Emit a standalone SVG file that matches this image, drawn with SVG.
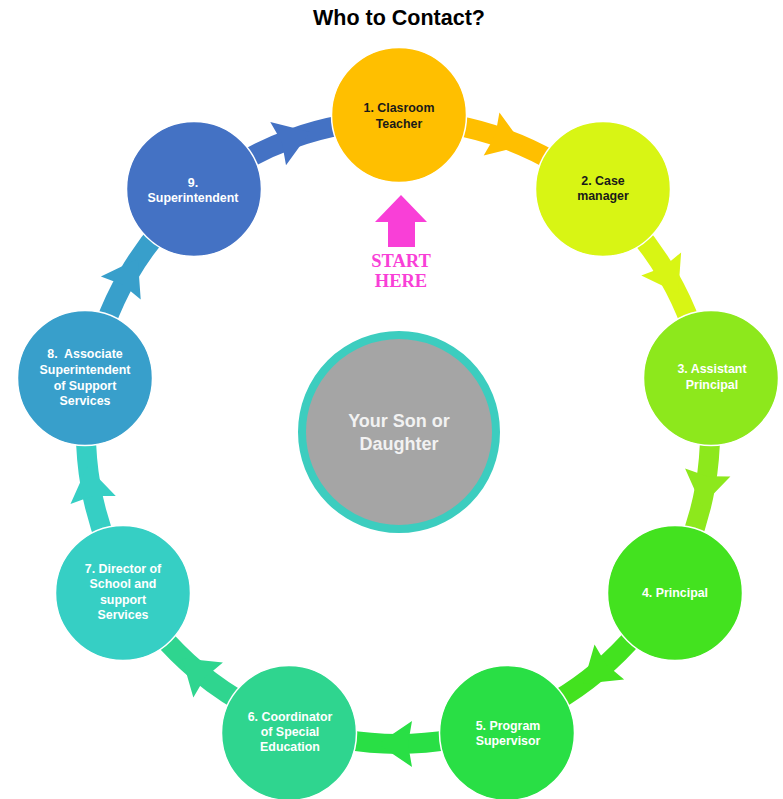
<svg xmlns="http://www.w3.org/2000/svg" width="783" height="799" viewBox="0 0 783 799">
<defs>
<style>
.band{fill:none;stroke-width:20}
.node{stroke:#ffffff;stroke-width:1.5}
.t{font-family:"Liberation Sans",Arial,sans-serif;font-weight:bold;font-size:12.4px;text-anchor:middle}
.w{fill:#ffffff}
.d{fill:#1a1a1a}
.s{font-family:"Liberation Serif","Times New Roman",serif;font-weight:bold;font-size:18.5px;text-anchor:middle;fill:#f93fd7}
</style>
<polygon id="head" points="-14,-23 20,0 -14,23 -10,0"/>
</defs>
<rect width="783" height="799" fill="#ffffff"/>
<text x="399" y="25" font-family="Liberation Sans,Arial,sans-serif" font-weight="bold" font-size="21.5" text-anchor="middle" fill="#000000">Who to Contact?</text>
<g id="connectors">
<path class="band" stroke="#ffbf00" d="M398,120 A312,312 0 0 1 598.6,193"/>
<use href="#head" fill="#ffbf00" transform="translate(504.7,138.8) rotate(20)"/>
<path class="band" stroke="#d8f514" d="M598.6,193 A312,312 0 0 1 705.3,377.8"/>
<use href="#head" fill="#d8f514" transform="translate(668.2,276) rotate(60)"/>
<path class="band" stroke="#8de81c" d="M705.3,377.8 A312,312 0 0 1 668.2,588"/>
<use href="#head" fill="#8de81c" transform="translate(705.3,486.2) rotate(100)"/>
<path class="band" stroke="#43e21f" d="M668.2,588 A312,312 0 0 1 504.7,725.2"/>
<use href="#head" fill="#43e21f" transform="translate(598.6,671) rotate(140)"/>
<path class="band" stroke="#29df45" d="M504.7,725.2 A312,312 0 0 1 291.3,725.2"/>
<use href="#head" fill="#29df45" transform="translate(398,744) rotate(180)"/>
<path class="band" stroke="#2fd58f" d="M291.3,725.2 A312,312 0 0 1 127.8,588"/>
<use href="#head" fill="#2fd58f" transform="translate(197.4,671) rotate(220)"/>
<path class="band" stroke="#36cfc4" d="M127.8,588 A312,312 0 0 1 90.7,377.8"/>
<use href="#head" fill="#36cfc4" transform="translate(90.7,486.2) rotate(260)"/>
<path class="band" stroke="#389fcb" d="M90.7,377.8 A312,312 0 0 1 197.4,193"/>
<use href="#head" fill="#389fcb" transform="translate(127.8,276) rotate(300)"/>
<path class="band" stroke="#4472c4" d="M197.4,193 A312,312 0 0 1 398,120"/>
<use href="#head" fill="#4472c4" transform="translate(291.3,138.8) rotate(340)"/>
</g>
<g id="center">
<circle cx="399" cy="432" r="97" fill="#a5a5a5" stroke="#3ccdbf" stroke-width="8"/>
<text class="t" x="399" y="427" fill="#f2f2f2" style="font-size:18px">Your Son or</text>
<text class="t" x="399" y="450" fill="#f2f2f2" style="font-size:18px">Daughter</text>
</g>
<g id="start">
<polygon points="401,195 427,222 415,222 415,247 388,247 388,222 375,222" fill="#f93fd7"/>
<text class="s" x="401" y="267">START</text>
<text class="s" x="401" y="287">HERE</text>
</g>
<g id="n1">
<circle class="node" cx="399" cy="115" r="67.5" fill="#ffbf00"/>
<text class="t d" x="399" y="112">1. Clasroom</text>
<text class="t d" x="399" y="127.5">Teacher</text>
</g>
<g id="n2">
<circle class="node" cx="603" cy="189" r="67.5" fill="#d8f514"/>
<text class="t d" x="603" y="185">2. Case</text>
<text class="t d" x="603" y="200">manager</text>
</g>
<g id="n3">
<circle class="node" cx="711" cy="378" r="67.5" fill="#8de81c"/>
<text class="t w" x="712" y="373">3. Assistant</text>
<text class="t w" x="712" y="389">Principal</text>
</g>
<g id="n4">
<circle class="node" cx="675" cy="593" r="67.5" fill="#43e21f"/>
<text class="t w" x="675" y="597">4. Principal</text>
</g>
<g id="n5">
<circle class="node" cx="507" cy="733" r="67.5" fill="#29df45"/>
<text class="t w" x="508" y="730">5. Program</text>
<text class="t w" x="508" y="745">Supervisor</text>
</g>
<g id="n6">
<circle class="node" cx="289" cy="733" r="67.5" fill="#2fd58f"/>
<text class="t w" x="290" y="721">6. Coordinator</text>
<text class="t w" x="290" y="736">of Special</text>
<text class="t w" x="290" y="751">Education</text>
</g>
<g id="n7">
<circle class="node" cx="123" cy="593" r="67.5" fill="#36cfc4"/>
<text class="t w" x="123" y="573">7. Director of</text>
<text class="t w" x="123" y="588">School and</text>
<text class="t w" x="123" y="604">support</text>
<text class="t w" x="123" y="619">Services</text>
</g>
<g id="n8">
<circle class="node" cx="85" cy="378" r="67.5" fill="#389fcb"/>
<text class="t w" x="85" y="358" style="white-space:pre">8.  Associate</text>
<text class="t w" x="85" y="374">Superintendent</text>
<text class="t w" x="85" y="390">of Support</text>
<text class="t w" x="85" y="405">Services</text>
</g>
<g id="n9">
<circle class="node" cx="194" cy="189" r="67.5" fill="#4472c4"/>
<text class="t w" x="193" y="187">9.</text>
<text class="t w" x="193" y="202">Superintendent</text>
</g>
</svg>
